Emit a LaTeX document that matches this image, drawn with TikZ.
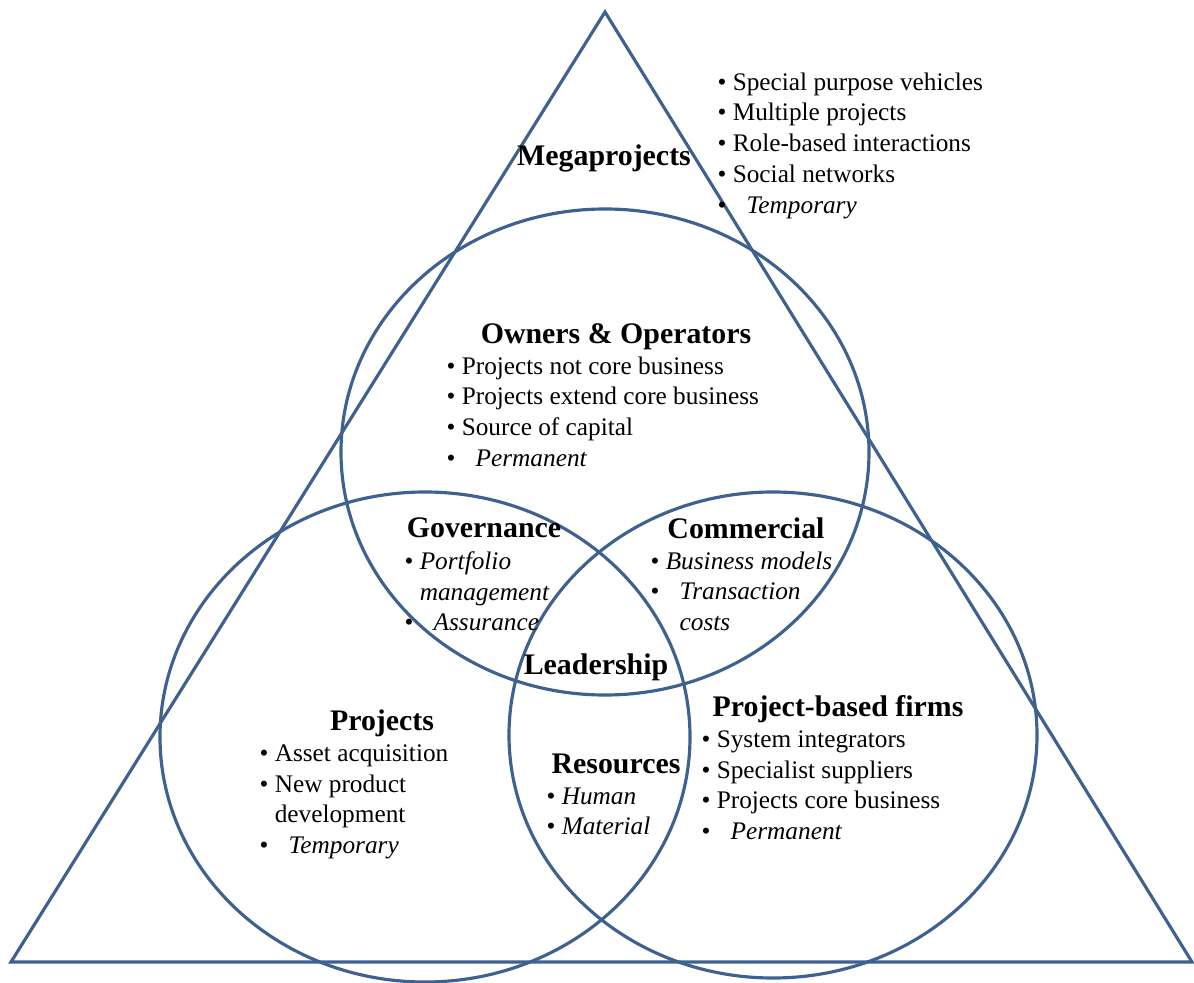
\documentclass[tikz,border=0pt]{standalone}
\usepackage{fontspec}
\setmainfont{Liberation Serif}
\definecolor{ringblue}{RGB}{62,97,143}
\newcommand{\bl}{\textbullet\ }
\newcommand{\blw}{\textbullet\hspace{0.8em}}
\newcommand{\ind}{\phantom{\textbullet\ }}
\newcommand{\indw}{\phantom{\textbullet\hspace{0.8em}}}

\begin{document}
\begin{tikzpicture}[x=0.02cm, y=-0.02cm, line width=1.8pt,
		ring/.style={draw=ringblue},
		head/.style={inner sep=0pt, font=\fontsize{17}{20}\selectfont\bfseries},
		list/.style={anchor=north west, inner sep=0pt, align=left, font=\fontsize{14.4}{17.5}\selectfont}]
		\useasboundingbox (0,0) rectangle (1194,983);

		% triangle and the three rings
		\draw [ring, line join=miter] (605,12) -- (11,962) -- (1192,962) -- cycle;
		\draw [ring] (605,452) ellipse [x radius=264, y radius=243];
		\draw [ring] (425,737) ellipse [x radius=265, y radius=245];
		\draw [ring] (773,735) ellipse [x radius=264, y radius=243];

		% headings
		\draw (604,158) node [head] (mega) {Megaprojects};
		\draw (616,337) node [head] (owners) {Owners \& Operators};
		\draw (484,528) node [head] (gov) {Governance};
		\draw (746,528) node [head] (comm) {Commercial};
		\draw (596,667) node [head] (lead) {Leadership};
		\draw (382,723) node [head] (proj) {Projects};
		\draw (616,764) node [head] (res) {Resources};
		\draw (838,709) node [head] (pbf) {Project-based firms};

		% bullet lists
		\draw (716,71) node [list] (megalist) {\bl Special purpose vehicles\\ \bl Multiple projects\\
			\bl Role-based interactions\\ \bl Social networks\\ \blw\textit{Temporary}};
		\draw (445,355) node [list] (ownerslist) {\bl Projects not core business\\ \bl Projects extend core business\\
			\bl Source of capital\\ \blw\textit{Permanent}};
		\draw (403,550) node [list] (govlist) {\bl\textit{Portfolio}\\ \ind\textit{management}\\ \blw\textit{Assurance}};
		\draw (649,550) node [list] (commlist) {\bl\textit{Business models}\\ \blw\textit{Transaction}\\
			\indw\textit{costs}};
		\draw (258,743) node [list] (projlist) {\bl Asset acquisition\\ \bl New product\\ \ind development\\
			\blw\textit{Temporary}};
		\draw (545,786) node [list] (reslist) {\bl\textit{Human}\\ \bl\textit{Material}};
		\draw (700,729) node [list] (pbflist) {\bl System integrators\\ \bl Specialist suppliers\\
			\bl Projects core business\\ \blw\textit{Permanent}};
	\end{tikzpicture}
\end{document}
